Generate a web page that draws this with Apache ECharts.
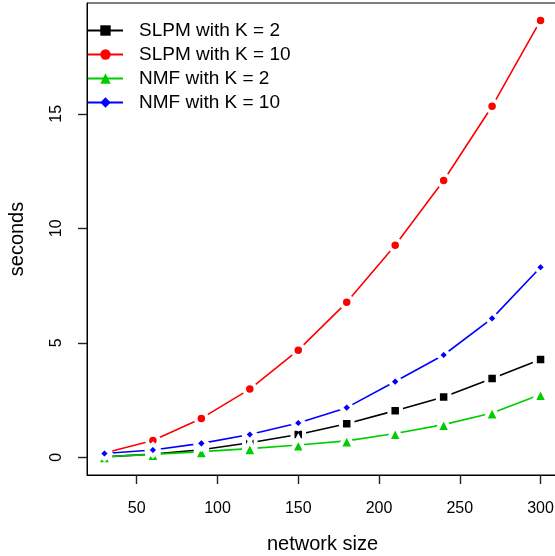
<!DOCTYPE html>
<html>
<head>
<meta charset="utf-8">
<script src="https://cdn.jsdelivr.net/npm/echarts@6/dist/echarts.min.js"></script>
<style>html,body{margin:0;padding:0;background:#fff;}#c{width:555px;height:556px;}</style>
</head>
<body>
<div id="c"></div>
<script>
const networkSize = [30, 60, 90, 120, 150, 180, 210, 240, 270, 300];
const slpmK2  = [0.02, 0.14, 0.33, 0.64, 1.00, 1.47, 2.04, 2.64, 3.44, 4.27];
const slpmK10 = [0.19, 0.74, 1.70, 2.98, 4.68, 6.77, 9.26, 12.09, 15.33, 19.08];
const nmfK2   = [0.03, 0.13, 0.25, 0.38, 0.54, 0.72, 1.04, 1.43, 1.94, 2.74];
const nmfK10  = [0.17, 0.32, 0.61, 1.00, 1.50, 2.17, 3.31, 4.47, 6.07, 8.30];
const xTicks = [50, 100, 150, 200, 250, 300];
const yTicks = [0, 5, 10, 15];
const seriesNames = ['SLPM with K = 2', 'SLPM with K = 10', 'NMF with K = 2', 'NMF with K = 10'];

const font = 'Liberation Sans, Arial, Helvetica, sans-serif';
const pair = v => v.map((y, i) => [networkSize[i], y]);

function mk(name, data, color, symbol, size) {
  return {
    name: name, type: 'line', data: pair(data),
    symbol: symbol, symbolSize: size,
    lineStyle: { color: color, width: 1.6 },
    itemStyle: { color: color, borderColor: '#fff', borderWidth: 4 },
    emphasis: { disabled: true },
    animation: false
  };
}

const chart = echarts.init(document.getElementById('c'), null, { renderer: 'canvas' });
chart.setOption({
  backgroundColor: '#fff',
  animation: false,
  grid: { left: 87, top: 3, width: 471, height: 472, show: true, borderColor: '#000', borderWidth: 1, backgroundColor: 'transparent', containLabel: false, outerBoundsMode: 'none' },
  legend: {
    orient: 'vertical', left: 87, top: 21, padding: 0,
    itemWidth: 35, itemHeight: 13, itemGap: 5,
    data: seriesNames,
    textStyle: { fontFamily: font, fontSize: 19, color: '#000', padding: [0, 0, 0, 11] },
    itemStyle: { borderWidth: 0 },
    selectedMode: false
  },
  xAxis: {
    type: 'value', min: 19.2, max: 310.8,
    name: 'network size', nameLocation: 'middle', nameGap: 59,
    nameTextStyle: { fontFamily: font, fontSize: 20, color: '#000' },
    axisLine: { show: true, onZero: false, lineStyle: { color: '#000', width: 1 } },
    axisTick: { show: true, length: 9, customValues: xTicks, lineStyle: { color: '#222', width: 1.4 } },
    axisLabel: { customValues: xTicks, margin: 26, fontFamily: font, fontSize: 16, color: '#000' },
    splitLine: { show: false }
  },
  yAxis: {
    type: 'value', min: -0.77, max: 19.84,
    name: 'seconds', nameLocation: 'middle', nameGap: 60,
    nameTextStyle: { fontFamily: font, fontSize: 20, color: '#000' },
    axisLine: { show: true, onZero: false, lineStyle: { color: '#000', width: 1 } },
    axisTick: { show: true, length: 9, customValues: yTicks, lineStyle: { color: '#222', width: 1.4 } },
    axisLabel: { customValues: yTicks, rotate: 90, margin: 22, fontFamily: font, fontSize: 16, color: '#000' },
    splitLine: { show: false }
  },
  series: [
    mk(seriesNames[0], slpmK2, '#000000', 'rect', 11.5),
    mk(seriesNames[1], slpmK10, '#FF0000', 'circle', 11.5),
    mk(seriesNames[2], nmfK2, '#00CD00', 'triangle', 15),
    mk(seriesNames[3], nmfK10, '#0000FF', 'diamond', 12)
  ]
});
</script>
</body>
</html>
